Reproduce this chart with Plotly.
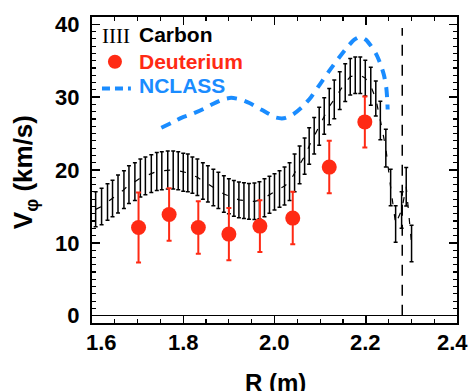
import plotly.graph_objects as go

# ---------------- data ----------------
CARBON_R = [1.608, 1.621, 1.634, 1.645, 1.657, 1.670, 1.681, 1.694, 1.706, 1.717,
            1.730, 1.742, 1.753, 1.766, 1.778, 1.789, 1.800, 1.810, 1.820, 1.831,
            1.843, 1.854, 1.866, 1.877, 1.889, 1.900, 1.911, 1.922, 1.933, 1.944,
            1.956, 1.967, 1.978, 1.989, 2.000, 2.011, 2.022, 2.033, 2.044, 2.055,
            2.066, 2.076, 2.087, 2.098, 2.109, 2.120, 2.131, 2.143, 2.155, 2.166,
            2.177, 2.188, 2.199, 2.211, 2.222, 2.232, 2.244,
            2.2546, 2.2655, 2.2786, 2.2887, 2.3004]
CARBON_V = [14.6, 15.0, 15.6, 16.1, 16.7, 17.3, 18.0, 18.4, 18.9, 19.2,
            19.5, 19.8, 19.9, 20.0, 20.0, 19.9, 19.7, 19.6, 19.3, 19.0,
            18.5, 18.1, 17.6, 17.2, 16.7, 16.4, 16.1, 15.9, 15.8, 15.7,
            15.7, 15.85, 16.2, 16.6, 17.0, 17.4, 17.8, 18.4, 19.6, 20.7,
            21.9, 23.3, 24.7, 26.0, 27.4, 28.7, 29.7, 30.9, 32.0, 32.8,
            33.0, 33.0, 32.6, 31.5, 29.8, 26.8, 23.0,
            17.6, 12.6, 14.5, 17.7, 9.9]
CARBON_ERR = [2.4, 2.5, 2.5, 2.5, 2.6, 2.6, 2.6, 2.6, 2.6, 2.6,
              2.6, 2.6, 2.6, 2.6, 2.6, 2.6, 2.6, 2.6, 2.5, 2.5,
              2.5, 2.5, 2.5, 2.5, 2.5, 2.4, 2.45, 2.45, 2.45, 2.45,
              2.5, 2.55, 2.6, 2.55, 2.5, 2.5, 2.6, 2.6, 2.6, 2.6,
              2.5, 2.5, 2.5, 2.6, 2.5, 2.5, 2.65, 2.6, 2.6, 2.5,
              2.5, 2.5, 2.45, 2.6, 2.4, 2.65, 2.6,
              2.5, 2.5, 2.5, 2.65, 2.5]

DEUT_R = [1.702, 1.769, 1.833, 1.900, 1.968, 2.040, 2.120, 2.198]
DEUT_V = [12.1, 13.9, 12.1, 11.2, 12.3, 13.4, 20.4, 26.6]
DEUT_ERR = [4.8, 3.6, 3.6, 3.6, 3.55, 3.6, 3.6, 3.5]

NCLASS_R = [1.752, 1.775, 1.797, 1.820, 1.845, 1.866, 1.888, 1.905, 1.925, 1.945,
            1.965, 1.985, 2.003, 2.020, 2.040, 2.060, 2.080, 2.100, 2.120, 2.140,
            2.160, 2.175, 2.188, 2.200, 2.212, 2.222, 2.232, 2.240, 2.245, 2.247, 2.248]
NCLASS_V = [25.8, 26.5, 27.2, 27.7, 28.4, 29.1, 29.7, 29.9, 29.7, 29.2,
            28.5, 27.8, 27.2, 27.1, 27.6, 28.6, 30.0, 31.8, 33.6, 35.3,
            36.9, 37.9, 38.3, 37.9, 37.0, 36.0, 34.6, 33.0, 31.3, 29.8, 28.3]

R_EDGE = 2.28          # separatrix marker
R_EDGE_TOP = 39.5

X_TICKS = [1.6, 1.8, 2.0, 2.2, 2.4]
X_TICK_TEXT = ["1.6", "1.8", "2.0", "2.2", "2.4"]
X_TICK_SHIFT = [9, 0, 0, 0, -5]

LEGEND_NAMES = ["Carbon", "Deuterium", "NCLASS"]

# ---------------- styling ----------------
FONT = "Liberation Sans, Arial, Helvetica, sans-serif"
BLACK = "#000000"
RED = "#ff2a14"
BLUE = "#1a8cff"

W, H = 471, 391
ML, MR, MT, MB = 92, 13, 15, 68
PW, PH = W - ML - MR, H - MT - MB


def px2paper(px, py):
    return (px - ML) / PW, (H - MB - py) / PH


fig = go.Figure()

fig.add_trace(go.Scatter(
    x=NCLASS_R, y=NCLASS_V, mode="lines", name="NCLASS",
    line=dict(color=BLUE, width=4, dash="10px,8px", shape="spline", smoothing=0.6),
    showlegend=False, hoverinfo="skip"))

fig.add_trace(go.Scatter(
    x=CARBON_R, y=CARBON_V, mode="lines", name="Carbon",
    line=dict(color=BLACK, width=1.2, dash="6px,10px"),
    error_y=dict(type="data", array=CARBON_ERR, visible=True,
                 color=BLACK, thickness=1.5, width=2),
    showlegend=False, hoverinfo="skip"))

fig.add_trace(go.Scatter(
    x=DEUT_R, y=DEUT_V, mode="markers", name="Deuterium",
    marker=dict(color=RED, size=15, line=dict(width=0)),
    error_y=dict(type="data", array=DEUT_ERR, visible=True,
                 color=RED, thickness=2, width=2.5),
    showlegend=False, hoverinfo="skip"))

# separatrix dashed line
fig.add_shape(type="line", xref="x", yref="y", x0=R_EDGE, x1=R_EDGE, y0=0, y1=R_EDGE_TOP,
              line=dict(color=BLACK, width=1.5, dash="11px,9px"))

annotations = []
# x tick labels
for v, t, s in zip(X_TICKS, X_TICK_TEXT, X_TICK_SHIFT):
    annotations.append(dict(x=v, xref="x", y=px2paper(0, 343)[1], yref="paper",
                            text=t, showarrow=False, xanchor="center", yanchor="middle",
                            xshift=s, font=dict(family=FONT, size=22, color=BLACK, weight="bold")))

# axis titles
ax, ay = px2paper(276, 383)
annotations.append(dict(x=ax, y=ay, xref="paper", yref="paper", text="R (m)", showarrow=False,
                        xanchor="center", yanchor="middle",
                        font=dict(family=FONT, size=24, color=BLACK, weight="bold")))
tx, ty = px2paper(25, 171)
annotations.append(dict(x=tx, y=ty, xref="paper", yref="paper",
                        text="V<sub>φ</sub> (km/s)", showarrow=False, textangle=-90,
                        xanchor="center", yanchor="middle",
                        font=dict(family=FONT, size=26, color=BLACK, weight="bold")))

# legend
lx, ly = px2paper(116.5, 34)
annotations.append(dict(x=lx, y=ly, xref="paper", yref="paper", text="IIII", showarrow=False,
                        xanchor="center", yanchor="middle",
                        font=dict(family="Liberation Serif, Times New Roman, serif", size=21, color=BLACK)))
for name, py, col in zip(LEGEND_NAMES, [33, 60, 84], [BLACK, RED, BLUE]):
    qx, qy = px2paper(137, py)
    annotations.append(dict(x=qx, y=qy, xref="paper", yref="paper", text=name, showarrow=False,
                            xanchor="left", yanchor="middle",
                            font=dict(family=FONT, size=21, color=col, weight="bold")))

cx, cy = px2paper(115, 60)
fig.add_shape(type="circle", xref="paper", yref="paper", xsizemode="pixel", ysizemode="pixel",
              xanchor=cx, yanchor=cy, x0=-7, x1=7, y0=-7, y1=7,
              fillcolor=RED, line=dict(width=0))
d0x, dy = px2paper(102, 87)
d1x, _ = px2paper(131, 87)
fig.add_shape(type="line", xref="paper", yref="paper", x0=d0x, x1=d1x, y0=dy, y1=dy,
              line=dict(color=BLUE, width=4, dash="8px,5px"))

fig.update_layout(
    width=W, height=H,
    margin=dict(l=ML, r=MR, t=MT, b=MB, pad=0),
    paper_bgcolor="white", plot_bgcolor="white",
    showlegend=False,
    annotations=annotations,
    font=dict(family=FONT, color=BLACK),
)

fig.update_xaxes(
    range=[1.6, 2.4], tick0=1.6, dtick=0.2,
    showgrid=False, zeroline=False,
    showline=True, linewidth=2, linecolor=BLACK, mirror="allticks",
    ticks="inside", ticklen=8, tickwidth=1.5, tickcolor=BLACK,
    showticklabels=False,
    minor=dict(dtick=0.05, ticks="inside", ticklen=4, tickwidth=1.2, tickcolor=BLACK, showgrid=False),
)
fig.update_yaxes(
    range=[-1, 41], tick0=0, dtick=10,
    showgrid=False, zeroline=True, zerolinecolor=BLACK, zerolinewidth=1.5,
    showline=True, linewidth=2, linecolor=BLACK, mirror="allticks",
    ticks="inside", ticklen=8, tickwidth=1.5, tickcolor=BLACK,
    tickfont=dict(family=FONT, size=22, color=BLACK, weight="bold"),
    ticklabelstandoff=6,
    minor=dict(dtick=1, ticks="inside", ticklen=4, tickwidth=1.2, tickcolor=BLACK, showgrid=False),
)

fig.write_html("out.html",
               config={"displayModeBar": False, "staticPlot": True},
               post_script="document.body.style.margin='0';document.body.style.padding='0';"
                           "document.body.style.overflow='hidden';")
